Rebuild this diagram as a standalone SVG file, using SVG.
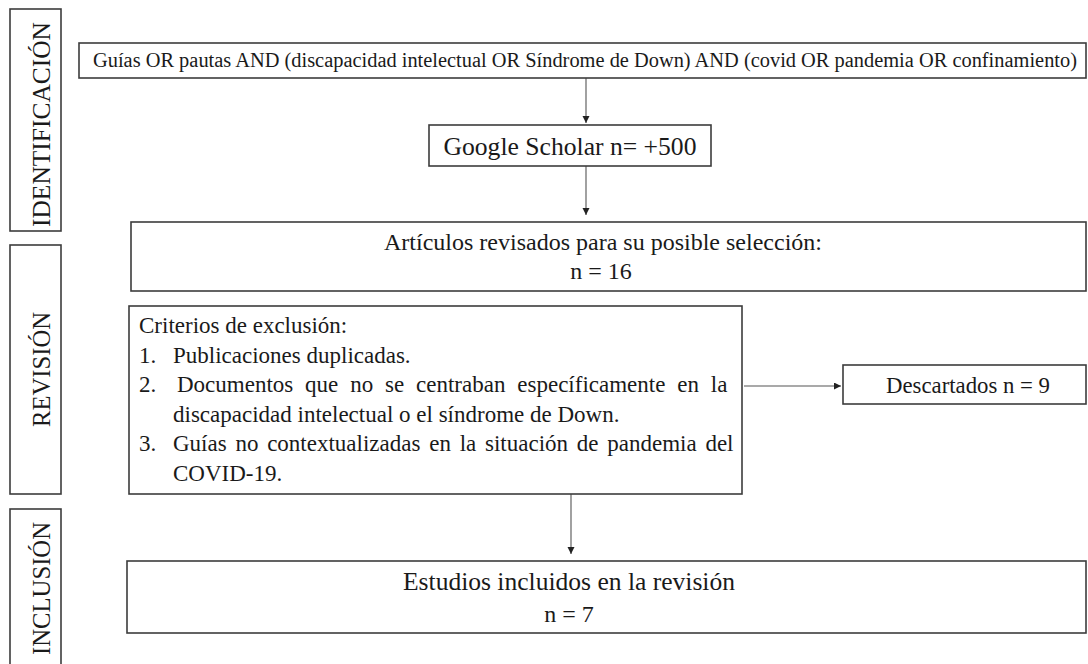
<svg xmlns="http://www.w3.org/2000/svg" width="1088" height="664" viewBox="0 0 1088 664">
<style>
  .box { fill: #ffffff; stroke: #3c3c3c; stroke-width: 1.6; }
  .t { font-family: "Liberation Serif", "Times New Roman", serif; fill: #1a1a1a; }
  .conn { stroke: #555555; stroke-width: 1.1; fill: none; }
</style>
<defs>
  <marker id="arr" markerUnits="userSpaceOnUse" markerWidth="8" markerHeight="8" refX="7" refY="3.5" orient="auto">
    <path d="M0,0 L7,3.5 L0,7 z" fill="#222222"/>
  </marker>
</defs>
<rect width="1088" height="664" fill="#ffffff"/>

<g id="phase-identificacion">
  <rect class="box" x="10" y="9" width="51" height="222"/>
  <text class="t" font-size="26" text-anchor="middle" textLength="205" lengthAdjust="spacingAndGlyphs" transform="translate(50,124.5) rotate(-90)">IDENTIFICACIÓN</text>
</g>
<g id="phase-revision">
  <rect class="box" x="10" y="245" width="51" height="249"/>
  <text class="t" font-size="26" text-anchor="middle" textLength="115" lengthAdjust="spacingAndGlyphs" transform="translate(50,369.5) rotate(-90)">REVISIÓN</text>
</g>
<g id="phase-inclusion">
  <rect class="box" x="10" y="509" width="51" height="170"/>
  <text class="t" font-size="26" text-anchor="middle" textLength="133" lengthAdjust="spacingAndGlyphs" transform="translate(50,588.5) rotate(-90)">INCLUSIÓN</text>
</g>

<g id="connectors">
  <line class="conn" x1="586" y1="78" x2="586" y2="123" marker-end="url(#arr)"/>
  <line class="conn" x1="586" y1="166" x2="586" y2="215" marker-end="url(#arr)"/>
  <line class="conn" x1="744" y1="386" x2="841" y2="386" marker-end="url(#arr)"/>
  <line class="conn" x1="571" y1="494" x2="571" y2="554" marker-end="url(#arr)"/>
</g>

<g id="node-query">
  <rect class="box" x="79" y="43" width="1007" height="35"/>
  <text class="t" x="93" y="67" font-size="20" textLength="984" lengthAdjust="spacingAndGlyphs">Guías OR pautas AND (discapacidad intelectual OR Síndrome de Down) AND (covid OR pandemia OR confinamiento)</text>
</g>

<g id="node-scholar">
  <rect class="box" x="429" y="125" width="282" height="41"/>
  <text class="t" x="570" y="155" font-size="25.5" text-anchor="middle" textLength="253" lengthAdjust="spacingAndGlyphs">Google Scholar n= +500</text>
</g>

<g id="node-articulos">
  <rect class="box" x="131" y="222" width="955" height="69"/>
  <text class="t" x="603" y="250" font-size="24" text-anchor="middle" textLength="438" lengthAdjust="spacingAndGlyphs">Artículos revisados para su posible selección:</text>
  <text class="t" x="601" y="279" font-size="24" text-anchor="middle">n = 16</text>
</g>

<g id="node-criterios">
  <rect class="box" x="129" y="306" width="613" height="188"/>
  <text class="t" x="139" y="333" font-size="23">Criterios de exclusión:</text>
  <text class="t" x="139" y="362.6" font-size="23">1.</text>
  <text class="t" x="173" y="362.6" font-size="23">Publicaciones duplicadas.</text>
  <text class="t" x="139" y="392" font-size="23">2.</text>
  <text class="t" x="177" y="392" font-size="23" word-spacing="6.1">Documentos que no se centraban específicamente en la</text>
  <text class="t" x="173" y="422" font-size="23">discapacidad intelectual o el síndrome de Down.</text>
  <text class="t" x="139" y="451.4" font-size="23">3.</text>
  <text class="t" x="173" y="451.4" font-size="23" word-spacing="3">Guías no contextualizadas en la situación de pandemia del</text>
  <text class="t" x="173" y="481" font-size="23">COVID-19.</text>
</g>

<g id="node-descartados">
  <rect class="box" x="843" y="365" width="243" height="39"/>
  <text class="t" x="968" y="393" font-size="23" text-anchor="middle" textLength="164" lengthAdjust="spacingAndGlyphs">Descartados n = 9</text>
</g>

<g id="node-estudios">
  <rect class="box" x="127" y="561" width="959" height="72"/>
  <text class="t" x="569" y="590" font-size="25" text-anchor="middle" textLength="332" lengthAdjust="spacingAndGlyphs">Estudios incluidos en la revisión</text>
  <text class="t" x="569" y="622" font-size="24" text-anchor="middle">n = 7</text>
</g>
</svg>
